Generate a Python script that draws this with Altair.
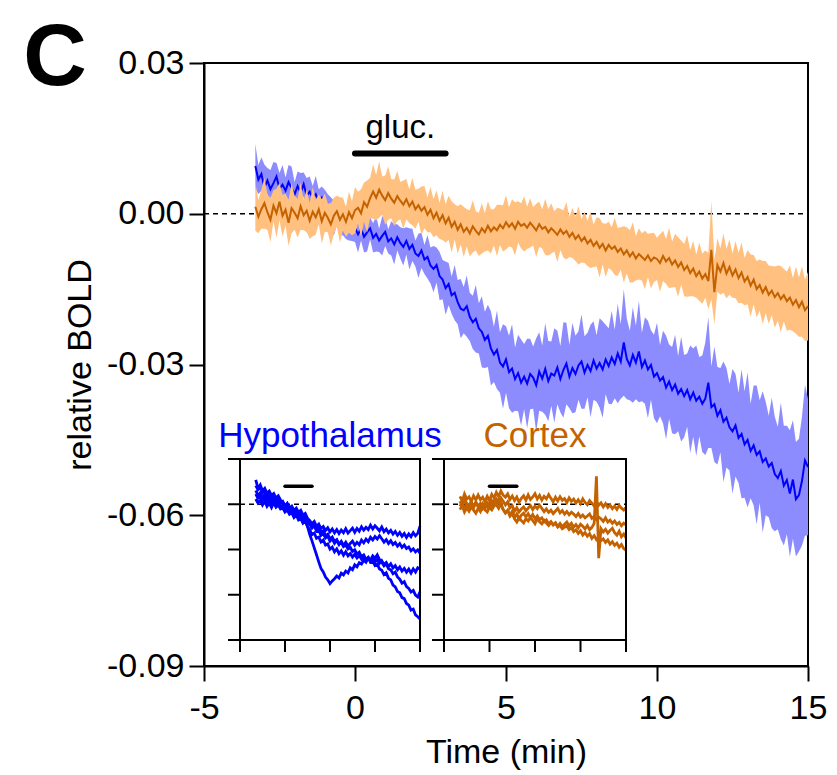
import altair as alt
import numpy as np
import pandas as pd

FONT = "Liberation Sans"
BLUE = "#0000FF"
BLUE_BAND = "#8C8CFF"
ORANGE = "#C46200"
ORANGE_BAND = "#FFC080"

# Sample times (min)
main_time = np.round(np.arange(-3.3, 15.05, 0.1), 2)      # 184 samples
inset_time = np.round(np.arange(-3.25, 15.05, 0.25), 2)   # 74 samples

# Group means and SEM, in thousandths of relative BOLD
hyp_mean = [
    9.5, 6.8, 7.9, 5.2, 6.6, 4.9, 6.1, 7.4, 5.0, 5.8,
    4.6, 6.3, 5.1, 3.9, 5.5, 4.2, 5.9, 3.6, 4.4, 3.1,
    3.9, 2.4, 3.2, 1.5, 1.9, 0.2, -0.9, -0.2, -1.8, -1.1,
    -2.6, -1.9, -3.4, -2.8, -4.1, -3.0, -4.6, -3.7, -2.9, -4.8,
    -4.0, -5.3, -4.4, -3.6, -5.5, -4.9, -6.1, -4.7, -5.8, -6.6,
    -5.4, -7.0, -6.2, -7.9, -8.4, -7.3, -9.1, -8.6, -10.3, -11.0,
    -10.2, -12.4, -13.1, -14.8, -14.0, -16.2, -15.7, -17.6, -18.9, -19.2,
    -18.4, -20.5, -21.6, -20.9, -22.8, -23.5, -25.1, -24.3, -26.8, -28.0,
    -27.1, -29.6, -30.4, -29.0, -31.5, -30.8, -32.9, -31.7, -33.6, -32.4,
    -33.8, -31.9, -32.6, -34.1, -31.4, -32.8, -30.9, -33.3, -31.8, -32.2,
    -30.6, -32.9, -31.1, -29.8, -32.4, -30.7, -31.9, -30.2, -29.4, -31.6,
    -30.1, -31.3, -29.2, -30.8, -29.7, -31.0, -29.0, -30.3, -28.6, -29.9,
    -27.8, -29.4, -25.6, -28.9, -30.2, -28.1, -29.6, -27.4, -30.5, -29.2,
    -31.0, -30.1, -32.4, -31.7, -33.2, -32.5, -34.6, -33.4, -35.1, -34.0,
    -35.8, -34.9, -36.3, -35.1, -36.9, -35.6, -37.2, -36.4, -37.8, -36.8,
    -33.6, -38.5, -37.9, -40.2, -39.1, -41.4, -40.6, -42.5, -43.3, -42.1,
    -44.6, -43.8, -45.9, -45.0, -47.2, -46.1, -48.0, -47.3, -49.4, -48.7,
    -50.3, -49.6, -51.8, -52.6, -51.2, -54.1, -53.0, -55.7, -52.9, -56.8,
    -56.0, -53.2, -49.1, -50.4,
]
hyp_sem = [
    4.4, 2.9, 3.3, 4.6, 2.5, 3.8, 4.2, 2.7, 3.1, 3.9,
    2.6, 3.4, 4.3, 2.4, 2.9, 3.9, 2.3, 3.5, 3.0, 2.4,
    3.6, 2.5, 2.2, 3.3, 2.0, 3.1, 3.5, 2.1, 2.6, 3.2,
    2.4, 3.4, 2.0, 2.8, 3.6, 2.3, 3.1, 3.8, 2.2, 2.9,
    3.5, 2.3, 3.9, 2.8, 2.4, 3.4, 4.0, 2.6, 3.1, 3.7,
    2.7, 4.1, 3.2, 2.6, 4.4, 3.5, 2.9, 4.3, 3.6, 4.6,
    3.5, 4.8, 3.9, 5.3, 4.2, 3.7, 5.5, 4.4, 5.9, 4.6,
    6.1, 4.8, 5.3, 6.7, 5.0, 7.1, 5.6, 6.2, 7.4, 5.5,
    7.8, 6.0, 8.4, 6.6, 7.2, 8.8, 6.3, 7.6, 8.6, 6.5,
    8.9, 7.0, 6.2, 9.3, 7.8, 6.6, 9.1, 8.0, 6.4, 9.4,
    7.3, 6.6, 9.5, 8.1, 6.3, 9.0, 7.6, 6.8, 9.4, 7.2,
    6.4, 9.2, 7.8, 6.6, 8.9, 9.6, 6.9, 7.5, 9.3, 6.8,
    9.9, 7.4, 10.6, 8.0, 6.9, 9.5, 7.3, 10.1, 6.8, 8.6,
    9.7, 6.9, 8.3, 10.0, 7.1, 9.2, 10.3, 7.4, 8.6, 9.9,
    7.5, 10.4, 8.2, 7.3, 10.7, 8.8, 11.0, 7.9, 9.6, 11.2,
    13.0, 8.1, 11.5, 9.7, 8.4, 12.0, 9.9, 8.6, 12.4, 10.2,
    9.0, 12.8, 10.6, 13.4, 9.4, 11.9, 13.8, 10.2, 14.1, 11.3,
    10.1, 13.0, 11.4, 10.2, 13.6, 11.9, 10.8, 12.6, 11.8, 11.4,
    11.2, 12.8, 15.0, 13.6,
]
ctx_mean = [
    1.4, -0.6, 0.9, 2.1, 0.3, -1.2, 1.6, 0.1, 2.4, -0.4,
    0.8, -1.8, 1.1, 0.2, -0.9, 1.5, -0.3, 0.6, -1.4, 0.4,
    -0.7, 0.9, -1.5, 0.2, -0.8, -2.1, -0.4, 0.5, -1.2, -0.1,
    -1.6, 0.3, -0.9, 0.7, 1.2, 0.1, 2.3, 1.4, 3.1, 4.4,
    3.2, 4.8, 3.6, 2.7, 4.1, 3.0, 2.2, 3.5, 2.6, 1.8,
    2.9, 1.5, 2.4, 0.9, 1.7, 0.6, 1.3, -0.2, 0.8, -0.9,
    0.2, -1.4, -0.3, -1.9, -0.8, -2.6, -1.6, -3.2, -2.1, -3.6,
    -2.8, -3.9, -2.5, -3.4, -4.1, -2.9, -3.7, -2.4, -3.5, -2.7,
    -3.3, -2.2, -2.9, -1.7, -2.6, -1.9, -3.0, -1.6, -2.4, -2.0,
    -2.8, -1.8, -2.5, -3.3, -2.1, -3.0, -2.6, -3.7, -2.9, -3.5,
    -4.2, -3.1, -4.0, -3.4, -4.6, -3.8, -5.0, -4.3, -5.4, -4.7,
    -5.9, -5.2, -6.4, -5.6, -6.8, -6.0, -7.3, -6.2, -7.0, -6.5,
    -7.6, -6.9, -8.1, -7.3, -8.5, -7.7, -8.9, -8.0, -8.6, -9.2,
    -8.3, -9.4, -8.7, -9.0, -9.8, -8.4, -9.5, -8.8, -10.1, -9.3,
    -10.6, -9.7, -11.2, -10.4, -11.8, -10.9, -12.4, -11.5, -12.9, -12.0,
    -13.4, -7.2, -15.6, -10.2, -11.5, -9.8, -11.9, -10.6, -12.3, -11.1,
    -12.8, -11.7, -13.5, -12.6, -14.3, -13.1, -15.0, -14.2, -15.7, -14.6,
    -16.1, -15.3, -16.6, -15.8, -17.0, -16.2, -17.4, -16.7, -18.1, -17.2,
    -18.6, -17.5, -19.2, -18.4,
]
ctx_sem = [
    4.8, 3.3, 3.9, 5.1, 3.5, 4.4, 3.1, 4.9, 3.7, 4.2,
    3.2, 4.6, 5.0, 3.4, 3.9, 4.7, 3.0, 4.3, 3.6, 4.9,
    3.5, 3.0, 4.4, 3.8, 2.9, 4.2, 3.6, 3.1, 4.5, 3.3,
    3.0, 4.1, 3.4, 4.6, 3.2, 4.8, 3.9, 5.2, 4.0, 5.4,
    4.5, 5.6, 3.8, 4.9, 5.3, 3.9, 4.6, 5.0, 3.7, 4.8,
    4.0, 3.4, 4.7, 3.9, 3.3, 4.8, 4.2, 3.5, 4.5, 3.8,
    4.5, 3.6, 4.9, 3.8, 4.4, 5.1, 3.5, 4.7, 4.0, 5.0,
    3.7, 4.6, 5.2, 3.9, 4.3, 5.0, 3.8, 4.9, 4.4, 3.6,
    5.1, 4.0, 4.6, 5.4, 3.9, 4.8, 5.3, 4.1, 4.5, 5.5,
    4.2, 4.9, 3.8, 5.3, 4.5, 3.9, 5.6, 4.6, 5.0, 4.0,
    5.4, 4.1, 4.7, 5.7, 4.0, 5.0, 4.4, 5.8, 4.3, 5.1,
    4.5, 5.6, 4.2, 4.9, 5.9, 4.1, 5.3, 4.6, 4.3, 5.7,
    4.8, 4.2, 5.6, 4.6, 5.2, 6.0, 4.4, 5.1, 4.7, 5.8,
    4.3, 5.5, 4.9, 4.2, 5.7, 5.0, 4.5, 6.0, 4.6, 5.3,
    5.9, 4.4, 5.2, 6.1, 4.6, 5.5, 4.3, 5.8, 5.0, 4.7,
    5.6, 9.8, 6.4, 5.3, 4.6, 5.9, 4.9, 5.5, 4.4, 5.7,
    5.0, 6.0, 4.7, 5.4, 6.2, 4.9, 5.6, 5.1, 6.3, 5.2,
    5.8, 4.9, 6.1, 5.5, 6.6, 5.2, 5.9, 6.4, 5.3, 6.7,
    5.9, 7.0, 6.1, 6.8,
]

# Individual animals (thousandths of relative BOLD), sampled every 0.25 min
hyp_traces = {
    "h1": [9.1, 5.8, 7.6, 4.3, 6.9, 3.8, 5.5, 2.7, 4.8, 1.9, 3.6, 0.4,
           1.8, -1.3, 0.6, -2.4, -1.2, -4.1, -2.6, -5.3, -4.0, -7.2, -6.1, -9.3,
           -10.8, -12.9, -11.4, -14.6, -13.2, -16.1, -14.7, -17.4, -15.6, -18.3, -16.4, -19.0,
           -16.8, -19.4, -17.1, -18.9, -16.2, -19.1, -17.5, -15.8, -18.6, -16.0, -17.9, -14.9,
           -17.2, -15.3, -16.8, -13.9, -16.4, -14.2, -15.9, -17.6, -15.1, -18.2, -16.5, -19.0,
           -17.3, -19.8, -18.0, -20.6, -18.7, -21.2, -19.4, -22.0, -19.6, -21.5, -18.8, -20.9,
           -19.3, -14.5],
    "h2": [12.4, 9.6, 11.1, 7.8, 9.2, 6.1, 7.5, 4.6, 5.9, 2.8, 4.1, 1.2,
           0.4, -2.7, -1.0, -3.9, -3.1, -6.0, -4.6, -7.5, -6.4, -9.6, -8.2, -11.7,
           -13.3, -15.8, -14.1, -17.9, -17.2, -20.6, -19.3, -22.4, -21.0, -24.5, -22.8, -25.9,
           -23.9, -26.7, -24.6, -27.3, -25.1, -27.8, -26.0, -24.4, -27.2, -25.3, -26.9, -23.8,
           -25.6, -23.1, -24.8, -21.9, -23.7, -21.4, -23.0, -20.8, -22.9, -25.1, -23.4, -26.0,
           -24.2, -26.7, -25.3, -27.8, -26.1, -28.6, -27.0, -29.4, -28.3, -30.9, -29.5, -31.6,
           -30.2, -32.4],
    "h3": [3.5, 0.8, 2.6, -0.5, 1.9, -1.4, 0.7, -2.2, 1.1, -2.0, -0.6, -3.1,
           -2.5, -5.2, -3.8, -6.6, -5.7, -8.8, -7.1, -10.4, -9.5, -12.6, -11.3, -14.8,
           -16.9, -20.2, -19.1, -22.6, -21.8, -25.0, -23.7, -27.1, -26.3, -29.8, -28.4, -31.5,
           -29.6, -32.7, -30.9, -33.8, -31.5, -34.2, -32.6, -35.0, -33.1, -35.6, -34.0, -36.4,
           -34.7, -37.1, -35.5, -37.9, -35.8, -38.3, -36.6, -39.2, -37.4, -40.0, -38.6, -41.3,
           -39.5, -42.2, -40.7, -43.4, -41.6, -44.3, -42.5, -45.1, -43.0, -45.6, -42.8, -44.9,
           -42.1, -43.0],
    "h4": [6.8, 3.9, 5.2, 2.4, 4.6, 1.5, 3.3, 0.6, 2.9, -0.2, 1.4, -1.6,
           -1.0, -4.1, -2.5, -5.4, -4.3, -7.6, -6.0, -9.2, -8.7, -11.9, -10.4, -14.6,
           -20.1, -24.3, -28.9, -33.5, -38.2, -42.6, -44.9, -48.3, -50.1, -52.6, -50.8, -49.4,
           -47.6, -48.9, -45.7, -46.8, -44.3, -45.6, -42.1, -43.4, -40.2, -41.5, -38.7, -39.6,
           -37.1, -38.5, -35.6, -36.9, -34.2, -35.8, -33.5, -36.7, -38.4, -40.9, -39.6, -42.8,
           -43.5, -46.1, -45.0, -48.2, -49.7, -52.4, -51.3, -54.6, -55.8, -58.2, -57.1, -60.3,
           -61.5, -58.0],
    "h5": [16.2, 10.5, 12.8, 8.9, 10.6, 7.3, 8.8, 5.9, 7.2, 4.1, 5.6, 2.8,
           1.5, -1.6, 0.3, -2.8, -2.1, -5.0, -3.6, -6.4, -5.8, -8.9, -7.4, -10.6,
           -11.2, -14.5, -13.0, -16.3, -15.4, -18.8, -17.6, -20.9, -19.8, -23.1, -21.7, -24.6,
           -23.5, -26.4, -25.2, -28.1, -27.0, -29.6, -28.5, -31.3, -30.2, -33.0, -31.8, -34.9,
           -33.6, -36.5, -35.2, -38.4, -37.9, -40.6, -39.7, -42.9, -43.8, -46.7, -45.5, -49.1,
           -50.2, -53.6, -54.8, -57.9, -58.7, -61.9, -62.6, -65.8, -66.9, -70.2, -69.5, -73.4,
           -74.6, -76.1],
}
ctx_traces = {
    "c1": [5.2, 2.1, 6.8, 3.4, 4.9, 1.8, 5.6, 2.9, 6.1, 3.0, 4.7, 1.6,
           5.3, 2.5, 6.6, 4.2, 7.9, 5.1, 8.8, 6.0, 4.7, 6.9, 3.2, 5.5,
           2.4, 4.8, 1.3, 3.9, 5.6, 2.7, 6.2, 3.1, 4.8, 7.0, 3.5, 5.9,
           2.8, 5.3, 3.6, 6.4, 3.9, 1.6, 4.7, 2.2, 5.0, 2.6, 3.8, 1.1,
           4.2, 1.9, 3.4, 0.8, 2.9, 0.5, 3.6, 1.2, -0.3, 2.4, 0.7, -1.1,
           1.8, -0.6, 0.9, -1.8, 0.4, -2.1, -0.5, -2.9, -1.2, -3.4, -0.8, -2.6,
           -3.8, -2.2],
    "c2": [-1.4, 1.3, -3.0, 0.2, -2.2, 0.9, -1.5, 1.6, -0.8, -3.1, 0.4, -2.0,
           1.1, -1.3, 2.4, 0.3, 3.6, 1.2, 4.3, 2.0, -0.5, 1.7, -2.4, -0.9,
           -4.6, -2.3, -5.1, -3.2, -1.8, -4.4, -2.6, -0.9, -3.5, -1.2, -2.9, -0.6,
           -2.7, -4.9, -3.1, -5.4, -3.9, -6.2, -4.5, -2.8, -5.7, -4.1, -6.6, -4.8,
           -7.0, -5.3, -6.5, -8.2, -6.1, -8.5, -7.2, -9.0, -7.8, -6.4, -9.3, -8.1,
           -10.2, -8.6, -9.7, -11.4, -9.0, -11.8, -10.5, -12.6, -11.1, -13.4, -12.0, -14.2,
           -12.5, -13.6],
    "c3": [2.0, -1.1, 3.4, 0.5, -0.7, 1.9, -2.3, 0.8, -1.6, 0.6, -2.8, -0.4,
           -2.1, 0.7, -1.5, 1.9, 0.2, 2.6, -0.8, -3.5, -5.7, -4.2, -7.9, -6.3,
           -9.6, -11.8, -8.7, -10.9, -12.4, -9.5, -11.1, -8.6, -10.8, -12.9, -9.4, -11.6,
           -13.0, -10.7, -12.5, -14.1, -11.9, -13.6, -12.2, -14.8, -12.7, -15.0, -13.3, -11.8,
           -14.4, -12.6, -15.2, -13.5, -15.7, -13.2, -14.6, -16.4, -14.1, -16.9, -15.3, -12.7,
           18.5, -35.8, -16.2, -18.4, -16.6, -19.1, -17.3, -15.9, -18.8, -20.5, -17.9, -21.6,
           -19.7, -22.3],
    "c4": [-3.6, -0.9, -5.2, -2.4, -4.7, -1.8, -3.9, -6.0, -2.6, -4.8, -1.3, -3.7,
           -5.1, -2.2, -3.8, -1.0, -0.4, -2.7, 0.9, -3.4, -5.8, -3.9, -7.2, -4.6,
           -8.9, -6.5, -9.8, -7.3, -5.9, -8.4, -6.2, -9.1, -6.8, -9.5, -7.7, -10.2,
           -9.0, -11.7, -10.4, -12.9, -11.5, -13.8, -12.6, -15.1, -14.0, -16.3, -15.2, -14.4,
           -16.8, -15.5, -18.1, -16.9, -19.3, -17.6, -20.4, -18.8, -21.2, -19.5, -22.6, -20.8,
           -23.4, -21.7, -24.1, -22.9, -25.3, -23.6, -26.4, -24.9, -27.2, -25.8, -28.5, -26.7,
           -29.4, -30.6],
}

x_ticks = [-5, 0, 5, 10, 15]
y_ticks = [0.03, 0.0, -0.03, -0.06, -0.09]
glucose_start, glucose_end = 0.0, 3.0

# ---------------------------------------------------------------- tables
hm, hs = np.array(hyp_mean) / 1000, np.array(hyp_sem) / 1000
cm, cs = np.array(ctx_mean) / 1000, np.array(ctx_sem) / 1000
main_df = pd.DataFrame({
    "t": main_time,
    "hyp": hm, "hyp_lo": hm - hs, "hyp_hi": hm + hs,
    "ctx": cm, "ctx_lo": cm - cs, "ctx_hi": cm + cs,
})


def traces_frame(traces):
    rows = []
    for name, vals in traces.items():
        for t, v in zip(inset_time, vals):
            rows.append({"t": t, "v": v / 1000, "animal": name})
    return pd.DataFrame(rows)


hyp_df = traces_frame(hyp_traces)
ctx_df = traces_frame(ctx_traces)

MINUS_FIX = "replace(datum.label, '\u2212', '-')"
X_MAIN = alt.Scale(domain=[-5, 15], nice=False, zero=False)
Y_MAIN = alt.Scale(domain=[-0.09, 0.03], nice=False, zero=False)
X_AXIS = alt.Axis(values=x_ticks, format="d", labelExpr=MINUS_FIX, labelFlush=False,
                  labelPadding=10, titleY=96, titleBaseline="alphabetic")
Y_AXIS = alt.Axis(values=y_ticks, format=".2f", labelExpr=MINUS_FIX, labelPadding=5,
                  titleX=-114, titleBaseline="alphabetic")


def xm(field):
    return alt.X(field, type="quantitative", scale=X_MAIN, axis=X_AXIS, title="Time (min)")


def ym(field):
    return alt.Y(field, type="quantitative", scale=Y_MAIN, axis=Y_AXIS, title="relative BOLD")


zero_df = pd.DataFrame({"x0": [-5], "x1": [15], "y": [0.0]})
gluc_df = pd.DataFrame({"x0": [glucose_start], "x1": [glucose_end], "y": [0.012]})
gluc_txt = pd.DataFrame({"t": [1.5], "v": [0.015], "txt": ["gluc."]})
panel_df = pd.DataFrame({"t": [-5], "v": [0.03], "txt": ["C"]})

main = alt.layer(
    alt.Chart(zero_df).mark_rule(color="black", strokeWidth=1.5, strokeDash=[5, 4])
    .encode(x=xm("x0"), x2="x1:Q", y=ym("y")),
    alt.Chart(main_df).mark_area(color=BLUE_BAND, opacity=1)
    .encode(x=xm("t"), y=ym("hyp_lo"), y2="hyp_hi:Q"),
    alt.Chart(main_df).mark_line(color=BLUE, strokeWidth=2)
    .encode(x=xm("t"), y=ym("hyp")),
    alt.Chart(main_df).mark_area(color=ORANGE_BAND, opacity=1)
    .encode(x=xm("t"), y=ym("ctx_lo"), y2="ctx_hi:Q"),
    alt.Chart(main_df).mark_line(color=ORANGE, strokeWidth=2)
    .encode(x=xm("t"), y=ym("ctx")),
    alt.Chart(gluc_df).mark_rule(color="black", strokeWidth=6, strokeCap="round")
    .encode(x=xm("x0"), x2="x1:Q", y=ym("y")),
    alt.Chart(gluc_txt).mark_text(font=FONT, fontSize=33, baseline="alphabetic", align="center")
    .encode(x=xm("t"), y=ym("v"), text="txt:N"),
    alt.Chart(panel_df).mark_text(font=FONT, fontSize=88, fontWeight="bold", baseline="alphabetic",
                                  align="center", dx=-149, dy=22)
    .encode(x=xm("t"), y=ym("v"), text="txt:N"),
)


def inset(df, x_range, color, label):
    xs = alt.Scale(domain=[-5, 15], range=x_range, nice=False, zero=False)
    ys = alt.Scale(domain=[-0.09, 0.03], range=[577, 396], nice=False, zero=False)

    def xi(field):
        return alt.X(field, type="quantitative", scale=xs, axis=None)

    def yi(field):
        return alt.Y(field, type="quantitative", scale=ys, axis=None)

    frame = pd.DataFrame({"x0": [-5], "x1": [15], "y0": [-0.09], "y1": [0.03]})
    yt = pd.DataFrame({"v": y_ticks, "edge": -5})
    xt = pd.DataFrame({"t": x_ticks, "edge": -0.09})
    lab = pd.DataFrame({"t": [5], "v": [0.0378], "txt": [label]})
    return alt.layer(
        alt.Chart(zero_df).mark_rule(color="black", strokeWidth=1.5, strokeDash=[5, 4])
        .encode(x=xi("x0"), x2="x1:Q", y=yi("y")),
        alt.Chart(df).mark_line(color=color, strokeWidth=2.8)
        .encode(x=xi("t"), y=yi("v"), detail="animal:N"),
        alt.Chart(frame).mark_rect(fillOpacity=0, stroke="black", strokeWidth=2)
        .encode(x=xi("x0"), x2="x1:Q", y=yi("y0"), y2="y1:Q"),
        alt.Chart(yt).mark_rule(color="black", strokeWidth=2, x2Offset=-12)
        .encode(x=xi("edge"), x2="edge:Q", y=yi("v")),
        alt.Chart(xt).mark_rule(color="black", strokeWidth=2, y2Offset=12)
        .encode(x=xi("t"), y=yi("edge"), y2="edge:Q"),
        alt.Chart(gluc_df).mark_rule(color="black", strokeWidth=3.5, strokeCap="round")
        .encode(x=xi("x0"), x2="x1:Q", y=yi("y")),
        alt.Chart(lab).mark_text(font=FONT, fontSize=35, color=color, baseline="alphabetic",
                                 align="center")
        .encode(x=xi("t"), y=yi("v"), text="txt:N"),
    )


hyp_inset = inset(hyp_df, [36, 216], BLUE, "Hypothalamus")
ctx_inset = inset(ctx_df, [240, 422], ORANGE, "Cortex")

chart = (
    alt.layer(main, hyp_inset, ctx_inset)
    .resolve_scale(x="independent", y="independent")
    .properties(
        width=604, height=603,
        autosize=alt.AutoSizeParams(type="none"),
        padding={"left": 204, "top": 63, "right": 29, "bottom": 109},
        background="white",
    )
    .configure_view(stroke="black", strokeWidth=2)
    .configure_axis(
        domainColor="black", domainWidth=2, tickColor="black", tickWidth=2, tickSize=15,
        labelFont=FONT, labelFontSize=34, labelColor="black",
        titleFont=FONT, titleFontSize=34, titleFontWeight="normal", titleColor="black",
        grid=False,
    )
)

chart.save("out.html", embed_options={"renderer": "svg", "actions": False})
